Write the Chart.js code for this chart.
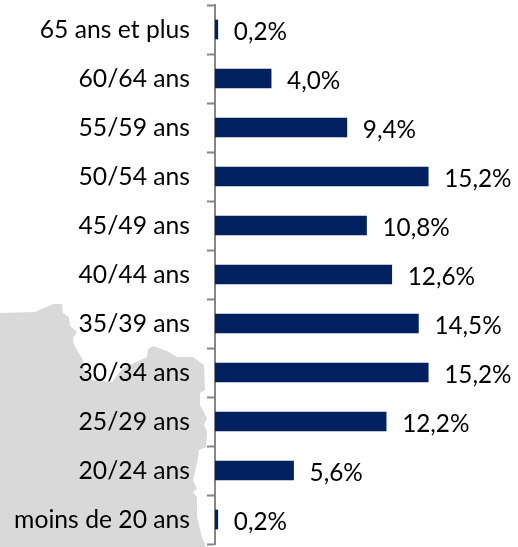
<!DOCTYPE html>
<html><head><meta charset="utf-8">
<style>html,body{margin:0;padding:0;background:#fff}#w{position:relative;width:518px;height:547px}canvas{display:block}</style>
<script src="https://cdn.jsdelivr.net/npm/chart.js@4"></script>
</head><body><div id="w"><canvas id="c" width="518" height="547"></canvas></div>
<script>
const categories=["65 ans et plus","60/64 ans","55/59 ans","50/54 ans","45/49 ans","40/44 ans","35/39 ans","30/34 ans","25/29 ans","20/24 ans","moins de 20 ans"];
const shares=[0.2,4.0,9.4,15.2,10.8,12.6,14.5,15.2,12.2,5.6,0.2];
const backdropOutline=[[0,313],[35,312],[53,304],[62,304],[63,313],[69,317],[70,326],[77,332],[73,338],[74,345],[83,360],[84,370],[92,380],[112,382],[123,368],[147,357],[148,349],[153,346],[167,351],[177,357],[193,357],[204,365],[205,390],[200,393],[200,405],[207,418],[204,425],[207,432],[206,447],[199,450],[197,463],[193,480],[197,489],[193,492],[197,497],[197,517],[202,537],[206,547],[0,547]];
const FONT='Lato, "Open Sans", sans-serif';
const backdrop={id:'backdrop',beforeDraw(ch){const g=ch.ctx;g.save();g.fillStyle='#d9d9d9';g.beginPath();backdropOutline.forEach((p,i)=>i?g.lineTo(p[0],p[1]):g.moveTo(p[0],p[1]));g.closePath();g.fill();g.restore();}};
const valueLabels={id:'valueLabels',afterDatasetsDraw(ch){const g=ch.ctx;g.save();g.font='24.3px '+FONT;g.fillStyle='#000';g.textBaseline='middle';g.textAlign='left';
ch.getDatasetMeta(0).data.forEach((b,i)=>{g.fillText(shares[i].toFixed(1).replace('.',',')+'%',b.x+16,b.y+3);});g.restore();}};
new Chart(document.getElementById('c'),{type:'bar',
data:{labels:categories,datasets:[{data:shares,backgroundColor:'#002060',borderWidth:0,barThickness:19}]},
options:{indexAxis:'y',responsive:false,animation:false,
layout:{autoPadding:false,padding:{top:5,bottom:3,left:0,right:0}},
plugins:{legend:{display:false},tooltip:{enabled:false}},
scales:{
x:{display:false,min:0,max:21.6},
y:{offset:true,afterFit(s){s.width=215;s.paddingTop=0;s.paddingBottom=0;},
border:{color:'#868686',width:2},
grid:{drawOnChartArea:false,drawTicks:true,tickLength:8,tickColor:'#868686',tickWidth:2,offset:true},
ticks:{color:'#000',font:{family:FONT,size:24.7},padding:17,autoSkip:false,labelOffset:1}}
}},plugins:[backdrop,valueLabels]});
</script></body></html>
